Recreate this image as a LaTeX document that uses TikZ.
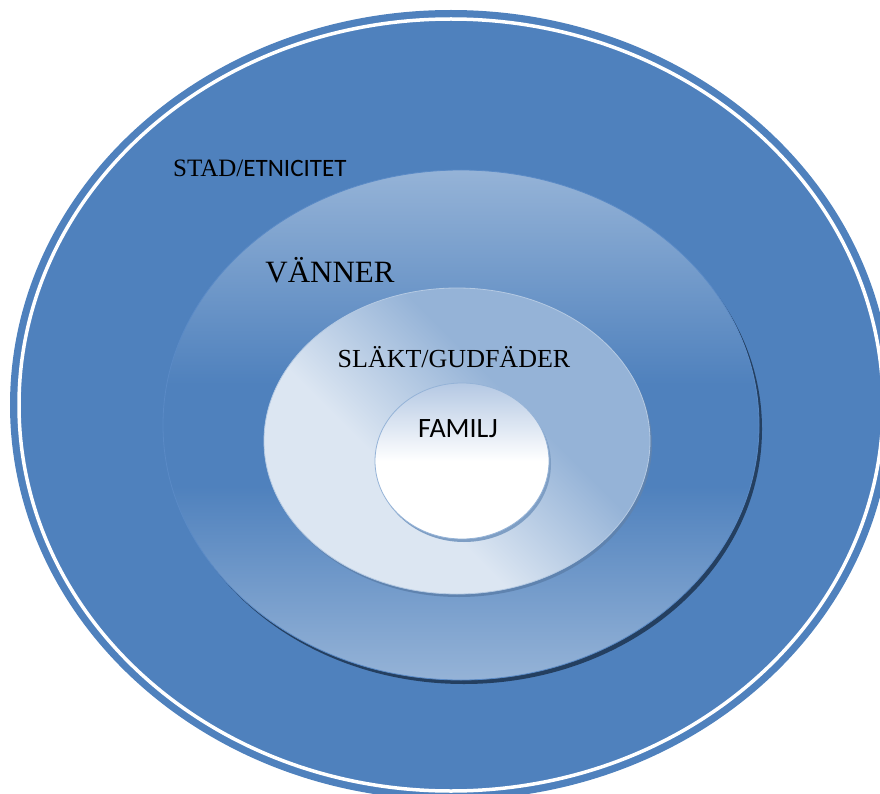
\documentclass[tikz,border=0pt]{standalone}
\usepackage{fontspec}
\setmainfont{Liberation Serif}
\newfontfamily\calibri{Carlito}
\usepackage{tikz}

\definecolor{outerblue}{HTML}{4F81BD}
\definecolor{paleblue}{HTML}{95B3D7}
\definecolor{lightblue}{HTML}{DCE6F2}
\definecolor{famtop}{HTML}{B4C8E3}
\definecolor{shadowblue}{HTML}{243F60}
\definecolor{rimblue}{HTML}{5A8AC6}

\pgfdeclareverticalshading{vannershade}{100bp}{color(0bp)=(paleblue); color(25bp)=(paleblue); color(44bp)=(outerblue); color(54bp)=(outerblue); color(75bp)=(paleblue); color(100bp)=(paleblue)}
\pgfdeclareverticalshading{slaktshade}{100bp}{color(0bp)=(paleblue); color(40bp)=(paleblue); color(60bp)=(lightblue); color(100bp)=(lightblue)}
\pgfdeclareverticalshading{familjshade}{100bp}{color(0bp)=(white); color(50bp)=(white); color(75bp)=(famtop); color(100bp)=(famtop)}

\tikzset{
    ring label/.style={inner sep=0pt, anchor=base},
    drop/.style={fill=#1, draw=none}
}

\begin{document}
\begin{tikzpicture}[x=1pt, y=-1pt]
    \useasboundingbox (0,0) rectangle (880,794);
    \clip (0,0) rectangle (880,794);
    % stad
    \fill[outerblue] (451,405) ellipse (441 and 395);
    \draw[white, line width=3.5pt] (451,405) ellipse (432 and 386);
    % vanner
    \fill[drop=shadowblue] (464,429) ellipse (298 and 255);
    \shade[shading=vannershade, draw=rimblue, line width=0.8pt] (461,425) ellipse (298 and 255);
    % slakt
    \fill[drop=black!15!outerblue!85] (459,444) ellipse (193 and 153);
    \shade[shading=slaktshade, shading angle=135, draw=paleblue!70!white, line width=0.8pt] (457,441) ellipse (193 and 153);
    % familj
    \fill[drop=black!10!outerblue!70] (464,464) ellipse (87 and 78);
    \shade[shading=familjshade, draw=paleblue, line width=0.8pt] (462,461) ellipse (87 and 78);

    \node[ring label, anchor=base west, font=\fontsize{25}{30}\selectfont] (stad) at (173,177) {STAD/{\calibri ETNICITET}};
    \node[ring label, font=\fontsize{31}{36}\selectfont] (vanner) at (330,282) {VÄNNER};
    \node[ring label, font=\fontsize{26}{30}\selectfont] (slakt) at (454,367) {SLÄKT/GUDFÄDER};
    \node[ring label, font=\calibri\fontsize{28}{32}\selectfont] (familj) at (458,437) {FAMILJ};
\end{tikzpicture}
\end{document}
